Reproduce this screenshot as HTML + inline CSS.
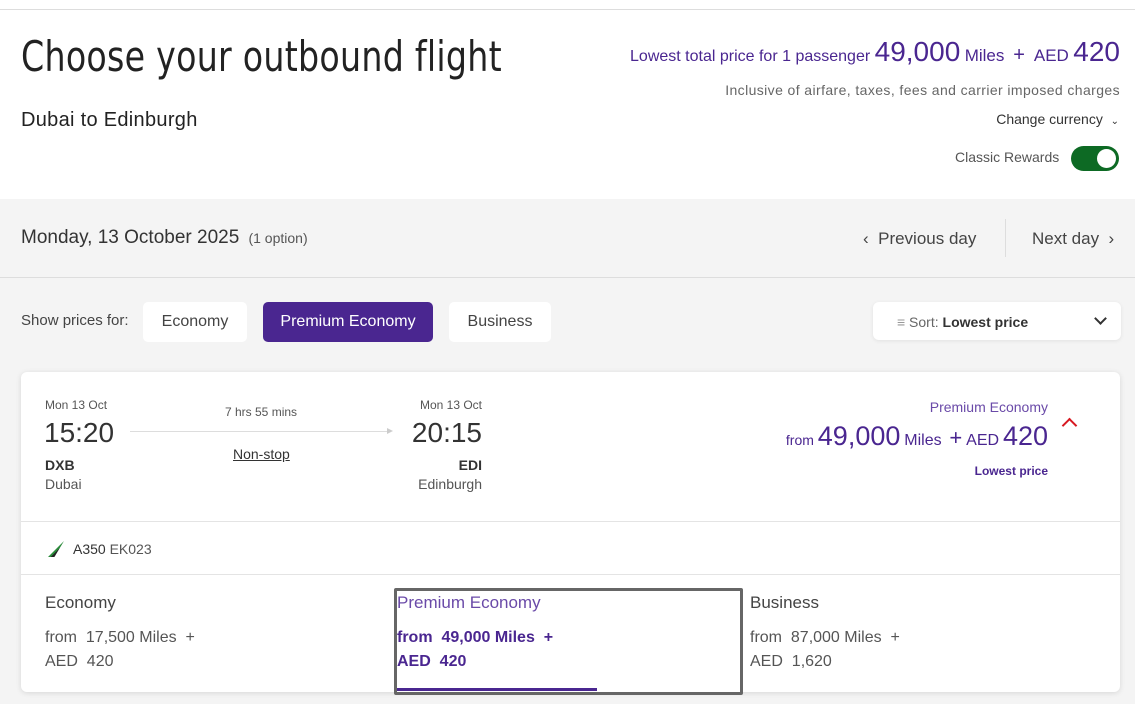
<!DOCTYPE html>
<html><head><meta charset="utf-8"><style>
*{margin:0;padding:0;box-sizing:border-box}
body{width:1135px;height:704px;overflow:hidden;background:#f4f4f4;font-family:"Liberation Sans",sans-serif;color:#333;position:relative}
.a{position:absolute;white-space:nowrap}
.p{color:#4a2690}
</style></head><body>
<div class="a" style="left:0;top:0;width:1135px;height:199px;background:#fff;border-top:1px solid #ddd;top:9px;height:190px"></div>
<div class="a" style="left:0;top:0;width:1135px;height:9px;background:#fff"></div>
<div class="a" style="left:21px;top:32px;font-size:42px;color:#222;letter-spacing:0.3px;font-family:'DejaVu Sans Condensed','Liberation Sans',sans-serif;font-weight:300;transform:scaleX(0.88);transform-origin:0 0">Choose your outbound flight</div>
<div class="a" style="left:21px;top:109px;font-size:20px;color:#222;letter-spacing:0.3px">Dubai to Edinburgh</div>
<div class="a p" style="right:15px;top:36px;font-size:16px"><span>Lowest total price for 1 passenger</span> <span style="font-size:28px">49,000</span> <span style="font-size:17px">Miles</span> &nbsp;<span style="font-size:20px">+</span>&nbsp; <span style="font-size:17px">AED</span> <span style="font-size:28px">420</span></div>
<div class="a" style="right:15px;top:82px;font-size:14px;color:#666;letter-spacing:0.4px">Inclusive of airfare, taxes, fees and carrier imposed charges</div>
<div class="a" style="right:16px;top:111px;font-size:14px;color:#333">Change currency &nbsp;<span style="font-size:10px">&#8964;</span></div>
<div class="a" style="left:955px;top:149px;font-size:14px;color:#555">Classic Rewards</div>
<div class="a" style="left:1071px;top:146px;width:48px;height:25px;border-radius:13px;background:#0d6a24"><div style="position:absolute;right:3px;top:3px;width:19px;height:19px;border-radius:50%;background:#fff"></div></div>

<div class="a" style="left:21px;top:227px;font-size:19px;color:#333">Monday, 13 October 2025 <span style="font-size:14px;color:#555">&nbsp;(1 option)</span></div>
<div class="a" style="left:863px;top:229px;font-size:17px;color:#444">&#8249;&nbsp; Previous day</div>
<div class="a" style="left:1005px;top:219px;width:1px;height:38px;background:#ddd"></div>
<div class="a" style="left:1032px;top:229px;font-size:17px;color:#444">Next day &nbsp;&#8250;</div>
<div class="a" style="left:0;top:277px;width:1135px;height:1px;background:#ddd"></div>

<div class="a" style="left:21px;top:312px;font-size:15px;color:#444">Show prices for:</div>
<div class="a" style="left:143px;top:302px;width:104px;height:40px;background:#fff;border-radius:5px;font-size:16px;color:#444;text-align:center;line-height:40px">Economy</div>
<div class="a" style="left:263px;top:302px;width:170px;height:40px;background:#4a2690;border-radius:5px;font-size:16px;color:#fff;text-align:center;line-height:40px">Premium Economy</div>
<div class="a" style="left:449px;top:302px;width:102px;height:40px;background:#fff;border-radius:5px;font-size:16px;color:#444;text-align:center;line-height:40px">Business</div>
<div class="a" style="left:873px;top:302px;width:248px;height:38px;background:#fff;border-radius:6px;box-shadow:0 1px 4px rgba(0,0,0,.08)">
<div class="a" style="left:24px;top:12px;font-size:14px;color:#666"><span style="color:#999">&#8801;</span> Sort: <b style="color:#333">Lowest price</b></div>
<div class="a" style="right:16px;top:12px;width:9px;height:9px;border-right:2px solid #333;border-bottom:2px solid #333;transform:rotate(45deg)"></div></div>

<div class="a" style="left:21px;top:372px;width:1099px;height:320px;background:#fff;border-radius:6px;box-shadow:0 1px 6px rgba(0,0,0,.12)"></div>
<div class="a" style="left:45px;top:398px;font-size:12px;color:#555">Mon 13 Oct</div>
<div class="a" style="left:44px;top:417px;font-size:28px;color:#333">15:20</div>
<div class="a" style="left:45px;top:457px;font-size:14px;color:#333;font-weight:bold">DXB</div>
<div class="a" style="left:45px;top:476px;font-size:14px;color:#555">Dubai</div>
<div class="a" style="left:225px;top:405px;font-size:12px;color:#555">7 hrs 55 mins</div>
<div class="a" style="left:130px;top:431px;width:258px;height:1px;background:#ddd"></div>
<div class="a" style="left:387px;top:428px;width:0;height:0;border-left:6px solid #ccc;border-top:3px solid transparent;border-bottom:3px solid transparent"></div>
<div class="a" style="left:233px;top:446px;font-size:14px;color:#333;text-decoration:underline">Non-stop</div>
<div class="a" style="right:653px;top:398px;font-size:12px;color:#555">Mon 13 Oct</div>
<div class="a" style="right:653px;top:417px;font-size:28px;color:#333">20:15</div>
<div class="a" style="right:653px;top:457px;font-size:14px;color:#333;font-weight:bold">EDI</div>
<div class="a" style="right:653px;top:476px;font-size:14px;color:#555">Edinburgh</div>
<div class="a" style="right:87px;top:399px;font-size:14px;color:#6a4aa8">Premium Economy</div>
<div class="a p" style="right:87px;top:421px;font-size:14px">from <span style="font-size:27px">49,000</span> <span style="font-size:16px">Miles</span> &nbsp;<span style="font-size:22px">+</span> <span style="font-size:16px">AED</span> <span style="font-size:27px">420</span></div>
<div class="a p" style="right:87px;top:464px;font-size:12px;font-weight:bold">Lowest price</div>
<div class="a" style="left:1064px;top:420px;width:11px;height:11px;border-left:2px solid #d71921;border-top:2px solid #d71921;transform:rotate(45deg)"></div>
<div class="a" style="left:21px;top:521px;width:1099px;height:1px;background:#e4e4e4"></div>
<div class="a" style="left:48px;top:541px;width:16px;height:16px;background:linear-gradient(135deg,transparent 45%,#2a8a3a 45%,#2a8a3a 58%,#222 58%,#222 70%,#d71921 70%);clip-path:polygon(100% 0,0 100%,40% 100%)"></div>
<div class="a" style="left:73px;top:541px;font-size:14px;color:#333">A350 <span style="color:#555">EK023</span></div>
<div class="a" style="left:21px;top:574px;width:1099px;height:1px;background:#e4e4e4"></div>
<div class="a" style="left:45px;top:593px;font-size:17px;color:#444">Economy</div>
<div class="a" style="left:45px;top:626px;font-size:16px;color:#555;line-height:24px">from &nbsp;17,500 Miles &nbsp;+<br>AED &nbsp;420</div>
<div class="a" style="left:394px;top:588px;width:349px;height:107px;border:3px solid #666;border-radius:2px;background:#fff"></div>
<div class="a" style="left:397px;top:593px;font-size:17px;color:#6a4aa8">Premium Economy</div>
<div class="a p" style="left:397px;top:626px;font-size:16px;font-weight:bold;line-height:24px">from &nbsp;49,000 Miles &nbsp;+<br>AED &nbsp;420</div>
<div class="a" style="left:397px;top:688px;width:200px;height:3px;background:#4a2690"></div>
<div class="a" style="left:750px;top:593px;font-size:17px;color:#444">Business</div>
<div class="a" style="left:750px;top:626px;font-size:16px;color:#555;line-height:24px">from &nbsp;87,000 Miles &nbsp;+<br>AED &nbsp;1,620</div>
</body></html>
